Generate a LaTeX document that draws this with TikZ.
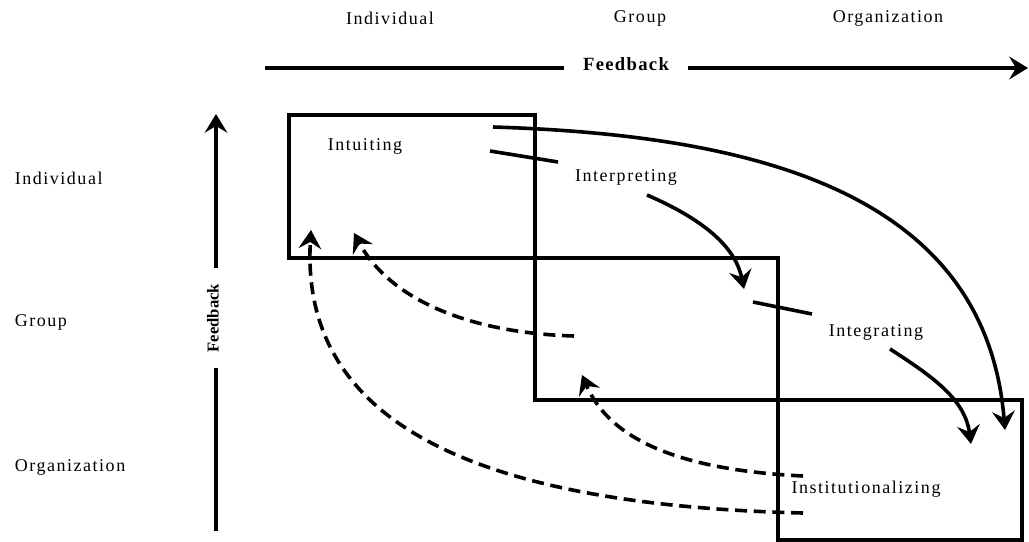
\documentclass[tikz,border=0pt]{standalone}
\usepackage{fontspec}
\setmainfont{Liberation Serif}
\newfontfamily\lblfont{Liberation Serif}[LetterSpace=8.5]
\newfontfamily\fbfont{Liberation Serif}[LetterSpace=7]
\usetikzlibrary{arrows.meta}

\tikzset{every picture/.style={line width=2.7pt}}
\tikzset{
  lbl/.style={inner sep=0.75pt, font=\lblfont\fontsize{13.5}{16}\selectfont},
  fbtop/.style={inner ysep=0.75pt, inner xsep=13pt, font=\fbfont\bfseries\fontsize{14}{16}\selectfont},
  fbside/.style={inner ysep=0.75pt, inner xsep=10.5pt, rotate=90, font=\bfseries\fontsize{12.5}{14}\selectfont},
  tip/.style={-{Stealth[length=14pt,width=17pt,inset=5pt]}},
  dsh/.style={dash pattern=on 9pt off 5pt},
}

\begin{document}
\begin{tikzpicture}[x=0.75pt,y=0.75pt,yscale=-1,xscale=1]
\useasboundingbox (0,0) rectangle (1029,542);

% Text Node
\node [lbl] (indtop) at (390,18) {Individual};
% Text Node
\node [lbl] (grptop) at (640,18) {Group};
% Text Node
\node [lbl] (orgtop) at (888,18) {Organization};
% Text Node
\node [lbl, anchor=west] (indside) at (12,178) {Individual};
% Text Node
\node [lbl, anchor=west] (grpside) at (12,322) {Group};
% Text Node
\node [lbl, anchor=west] (orgside) at (12,467) {Organization};

%Feedback arrows
\node [fbtop] (fbh) at (626,64) {Feedback};
\coordinate (fbhl) at (265,68);
\coordinate (fbhr) at (1028,68);
\draw (fbhl) -- (fbhl -| fbh.west);
\draw [tip] (fbhr -| fbh.east) -- (fbhr);
\node [fbside] (fbv) at (213,318) {Feedback};
\coordinate (fbvt) at (216,114);
\coordinate (fbvb) at (216,531);
\draw [tip] (fbvt |- fbv.east) -- (fbvt);
\draw (fbvb) -- (fbvb |- fbv.west);

%Shape: Rectangle
\draw (289,115) rectangle (535,258);
%Shape: Rectangle
\draw (535,258) rectangle (778,400);
%Shape: Rectangle
\draw (778,400) rectangle (1022,540);

% Text Node
\node [lbl] (intu) at (365,146) {Intuiting};
% Text Node
\node [lbl] (intp) at (626,177) {Interpreting};
% Text Node
\node [lbl] (intg) at (876,332) {Integrating};
% Text Node
\node [lbl] (inst) at (866,489) {Institutionalizing};

%Curve Lines
\coordinate (a1) at (493,127);
\coordinate (a2) at (1005,430);
\draw [tip] (a1) .. controls (750,135) and (985,190) .. (a2);
%Straight Lines
\coordinate (b1) at (490,151);
\coordinate (b2) at (558,162);
\draw (b1) -- (b2);
%Curve Lines
\coordinate (c1) at (647,195);
\coordinate (c2) at (744,289);
\draw [tip] (c1) .. controls (700,218) and (735,245) .. (c2);
%Straight Lines
\coordinate (d1) at (753,302);
\coordinate (d2) at (812,314);
\draw (d1) -- (d2);
%Curve Lines
\coordinate (e1) at (890,349);
\coordinate (e2) at (971,444);
\draw [tip] (e1) .. controls (935,378) and (965,400) .. (e2);

%Dashed Curve Lines
\coordinate (f1) at (574,336);
\coordinate (f2) at (354,233);
\draw [tip, dsh] (f1) .. controls (470,333) and (390,300) .. (f2);
\coordinate (g1) at (803,476);
\coordinate (g2) at (582,375);
\draw [tip, dsh] (g1) .. controls (680,470) and (610,440) .. (g2);
\coordinate (h1) at (803,513);
\coordinate (h2) at (311,230);
\draw [tip, dsh] (h1) .. controls (470,505) and (300,420) .. (h2);

\end{tikzpicture}
\end{document}
